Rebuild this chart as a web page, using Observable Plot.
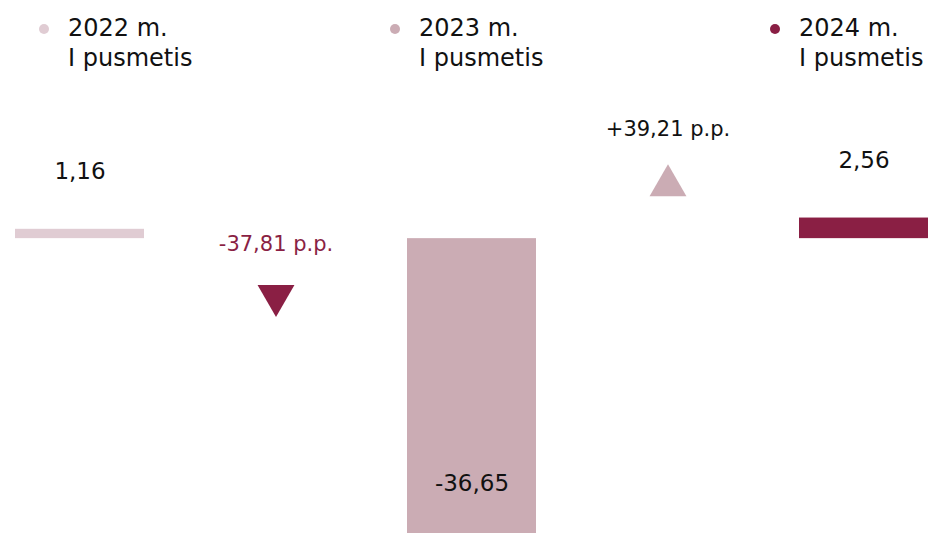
<!DOCTYPE html>
<html>
<head>
<meta charset="utf-8">
<script src="https://cdn.jsdelivr.net/npm/d3@7"></script>
<script src="https://cdn.jsdelivr.net/npm/@observablehq/plot@0.6"></script>
<style>
  html, body { margin: 0; padding: 0; background: #fff; }
  #wrap { position: relative; width: 941px; height: 533px; font-family: "DejaVu Sans", sans-serif; }
  .legend-item { position: absolute; top: 13px; display: flex; align-items: flex-start; }
  .legend-item .dot { width: 10px; height: 10px; border-radius: 50%; margin-top: 11px; }
  .legend-item .lbl { font-size: 24px; line-height: 30px; color: #111; margin-left: 19px; white-space: pre; }
  #chart { position: absolute; left: 0; top: 0; }
</style>
</head>
<body>
<div id="wrap">
  <div id="chart"></div>
</div>
<script>
// ---- data ----
const periods = ["2022", "2023", "2024"];
const periodLabels = ["2022 m.\nI pusmetis", "2023 m.\nI pusmetis", "2024 m.\nI pusmetis"];
const values = [1.16, -36.65, 2.56];
const changeSlots = ["Δ 2022–2023", "Δ 2023–2024"];
const changes = [-37.81, 39.21];

// ---- styles ----
const periodColors = ["#e0ccd3", "#cbacb4", "#8a1f44"];
const downColor = "#8a1f44";
const upColor = "#cbacb4";
const legendLeft = [39, 390, 770];

const fmt = v => v.toFixed(2).replace(".", ",");
const fmtChange = v => (v > 0 ? "+" : "") + fmt(v) + " p.p.";

const bars = periods.map((p, i) => ({col: p, period: p, value: values[i], label: fmt(values[i])}));
const deltas = changeSlots.map((c, i) => ({col: c, change: changes[i], label: fmtChange(changes[i])}));
const columns = [periods[0], changeSlots[0], periods[1], changeSlots[1], periods[2]];

// ---- legend (HTML, above the plot) ----
const wrap = document.getElementById("wrap");
periods.forEach((p, i) => {
  const item = document.createElement("div");
  item.className = "legend-item";
  item.style.left = legendLeft[i] + "px";
  const dot = document.createElement("span");
  dot.className = "dot";
  dot.style.background = periodColors[i];
  const lbl = document.createElement("span");
  lbl.className = "lbl";
  lbl.textContent = periodLabels[i];
  item.appendChild(dot);
  item.appendChild(lbl);
  wrap.appendChild(item);
});

// ---- chart ----
const chart = Plot.plot({
  width: 941,
  height: 533,
  marginLeft: 14,
  marginRight: 13,
  marginTop: 0,
  marginBottom: 0,
  style: {fontFamily: "DejaVu Sans, sans-serif", background: "transparent", color: "#111"},
  x: {type: "band", domain: columns, paddingInner: 0.3427, paddingOuter: 0, axis: null},
  y: {domain: [d3.min(values), 29.6], axis: null},
  color: {domain: periods, range: periodColors},
  marks: [
    Plot.barY(bars, {x: "col", y: "value", fill: "period"}),
    // labels above positive bars
    Plot.text(bars.filter(d => d.value >= 0), {
      x: "col", y: "value", text: "label", lineAnchor: "bottom", dy: -50,
      fontSize: 23, fill: "#111"
    }),
    // label inside the negative bar, near its end
    Plot.text(bars.filter(d => d.value < 0), {
      x: "col", y: "value", text: "label", lineAnchor: "bottom", dy: -43,
      fontSize: 23, fill: "#111"
    }),
    // decrease marker
    Plot.dot(deltas.filter(d => d.change < 0), {
      x: "col", y: 0, symbol: "triangle", rotate: 180, r: 13.7, fill: downColor, stroke: null, dy: 57
    }),
    Plot.text(deltas.filter(d => d.change < 0), {
      x: "col", y: 0, text: "label", lineAnchor: "bottom", dy: 12, fontSize: 21, fill: downColor
    }),
    // increase marker
    Plot.dot(deltas.filter(d => d.change > 0), {
      x: "col", y: 0, symbol: "triangle", r: 13.7, fill: upColor, stroke: null, dy: -53
    }),
    Plot.text(deltas.filter(d => d.change > 0), {
      x: "col", y: 0, text: "label", lineAnchor: "bottom", dy: -103, fontSize: 21, fill: "#111"
    })
  ]
});
document.getElementById("chart").appendChild(chart);
</script>
</body>
</html>
